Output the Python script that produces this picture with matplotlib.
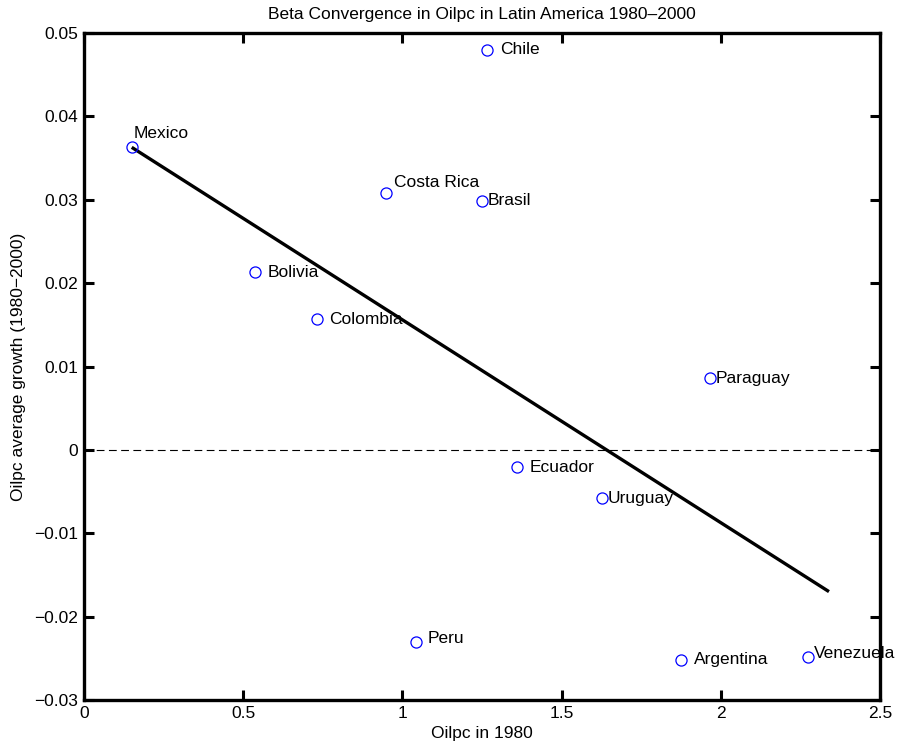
import matplotlib
matplotlib.use("Agg")
import matplotlib.pyplot as plt
from matplotlib.ticker import FuncFormatter

# data
countries = ["Chile", "Mexico", "Costa Rica", "Brasil", "Bolivia", "Colombia",
             "Paraguay", "Ecuador", "Uruguay", "Peru", "Argentina", "Venezuela"]
oilpc_1980 = [1.266, 0.150, 0.948, 1.249, 0.537, 0.731,
              1.966, 1.361, 1.627, 1.042, 1.875, 2.273]
avg_growth = [0.0480, 0.0363, 0.0308, 0.0299, 0.0213, 0.0157,
              0.0086, -0.0021, -0.0058, -0.0230, -0.0252, -0.0248]
# fitted line end points
fit_x = [0.150, 2.340]
fit_y = [0.0363, -0.0170]

xticks = [0, 0.5, 1, 1.5, 2, 2.5]
yticks = [-0.03, -0.02, -0.01, 0, 0.01, 0.02, 0.03, 0.04, 0.05]

# label offsets in pixels (matlab text placement)
label_dx = [13, 2, 8, 6, 13, 12, 6, 12, 6, 12, 13, 6]
label_dy = [0, 14, 11, 0, 0, 0, 0, 0, 0, 3, 0, 3]

plt.rcParams['font.family'] = ['Liberation Sans', 'DejaVu Sans']
fs = 12.5

fig = plt.figure(figsize=(9.09, 7.53), dpi=100)
ax = fig.add_axes([0.0924, 0.0704, 0.8756, 0.8856])

ax.axhline(0, color='black', linestyle=(0, (7, 4)), linewidth=0.8)
ax.plot(fit_x, fit_y, color='black', linewidth=2.4, solid_capstyle='butt')
ax.plot(oilpc_1980, avg_growth, 'o', markerfacecolor='none', markeredgecolor='blue',
        markersize=8, markeredgewidth=0.9)

for name, x, y, dx, dy in zip(countries, oilpc_1980, avg_growth, label_dx, label_dy):
    ax.annotate(name, (x, y), xytext=(dx, dy), textcoords='offset pixels',
                ha='left', va='center', fontsize=fs)

ax.set_xlim(0, 2.5)
ax.set_ylim(-0.03, 0.05)
ax.set_xticks(xticks)
ax.set_yticks(yticks)
fmt = FuncFormatter(lambda v, p: f"{v:g}".replace('-', '\u2212'))
ax.xaxis.set_major_formatter(fmt)
ax.yaxis.set_major_formatter(fmt)
ax.tick_params(direction='in', length=7, width=2.2, labelsize=fs, pad=4,
               top=True, right=True)
for s in ax.spines.values():
    s.set_linewidth(2.4)

ax.set_title("Beta Convergence in Oilpc in Latin America 1980\u20132000", fontsize=fs, pad=10)
ax.set_xlabel("Oilpc in 1980", fontsize=fs, labelpad=4)
ax.set_ylabel("Oilpc average growth (1980\u22122000)", fontsize=fs, labelpad=6)

fig.savefig("out.png", dpi=100)
